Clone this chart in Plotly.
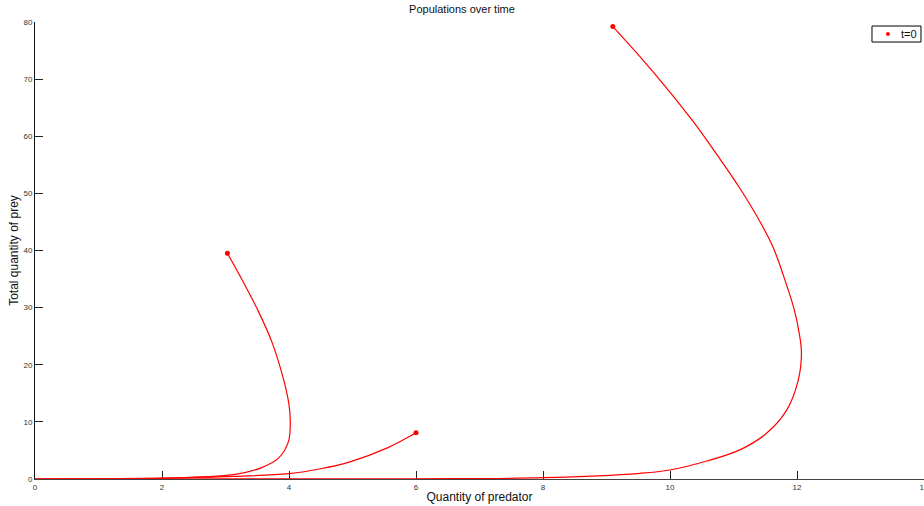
import plotly.graph_objects as go

# Trajectories (predator quantity, prey quantity), from t=0 onward
traj1_x = [3.03, 3.25, 3.52, 3.73, 3.91, 4.00, 4.02, 3.99, 3.83, 3.57, 3.15, 2.70, 2.00, 1.00, 0.0]
traj1_y = [39.5, 35.1, 29.3, 24.0, 17.6, 13.0, 10.0, 6.5, 3.6, 2.0, 0.8, 0.4, 0.1, 0.01, 0.0]

traj2_x = [6.00, 5.54, 4.96, 4.50, 4.00, 3.12, 2.00, 1.00, 0.0]
traj2_y = [8.1, 5.4, 3.0, 1.8, 0.95, 0.45, 0.15, 0.03, 0.0]

traj3_x = [9.10, 9.53, 9.95, 10.37, 10.75, 11.10, 11.42, 11.63, 11.82, 11.95, 12.04, 12.07, 12.02, 11.84, 11.52, 11.10, 10.58, 10.00, 9.53, 8.00, 6.00, 0.0]
traj3_y = [79.2, 73.9, 68.4, 62.5, 56.6, 50.9, 45.0, 40.4, 34.5, 29.9, 25.2, 22.0, 17.3, 12.1, 8.0, 5.1, 3.15, 1.58, 1.0, 0.23, 0.04, 0.0]

start_x = [traj1_x[0], traj2_x[0], traj3_x[0]]
start_y = [traj1_y[0], traj2_y[0], traj3_y[0]]

x_ticks = [0, 2, 4, 6, 8, 10, 12, 14]
y_ticks = [0, 10, 20, 30, 40, 50, 60, 70, 80]

legend_label = "t=0"

fig = go.Figure()
for xs, ys in [(traj1_x, traj1_y), (traj2_x, traj2_y), (traj3_x, traj3_y)]:
    fig.add_trace(go.Scatter(x=xs, y=ys, mode="lines", showlegend=False,
                             line=dict(color="#ff0000", width=1.2, shape="spline", smoothing=1.0),
                             hoverinfo="skip"))
fig.add_trace(go.Scatter(x=start_x, y=start_y, mode="markers", name=legend_label, showlegend=False,
                         marker=dict(color="#ff0000", size=5), cliponaxis=False))

font = "Liberation Sans, Arial, sans-serif"

# compact legend box (top-right), in paper coordinates
fig.add_shape(type="rect", xref="paper", yref="paper", x0=0.9415, x1=0.9966, y0=0.9562, y1=0.9912,
              line=dict(color="black", width=1), fillcolor="white", layer="above")
fig.add_shape(type="circle", xref="paper", yref="paper", x0=0.9572, x1=0.9617, y0=0.9693, y1=0.9781,
              line=dict(color="#ff0000", width=0), fillcolor="#ff0000", layer="above")
fig.add_annotation(xref="paper", yref="paper", x=0.9715, y=0.9737, xanchor="left", yanchor="middle",
                   text=legend_label, showarrow=False, font=dict(size=11, family=font, color="#111"))

fig.update_layout(
    width=924, height=506,
    margin=dict(l=35, r=0, t=22, b=27, autoexpand=False),
    paper_bgcolor="white", plot_bgcolor="white",
    font=dict(family=font, color="#222"),
    title=dict(text="Populations over time", x=0.5, xanchor="center", y=0.99, yanchor="top",
               font=dict(size=11, family=font, color="#111")),
    showlegend=False,
    xaxis=dict(range=[0, 14], tickvals=x_ticks, ticktext=[str(v) for v in x_ticks],
               ticks="inside", ticklen=8, tickcolor="#222", tickwidth=1, ticklabeloverflow="allow",
               automargin=False,
               showline=True, linecolor="#444", linewidth=1, showgrid=False, zeroline=False,
               tickfont=dict(size=8, color="#333"), layer="below traces",
               title=dict(text="Quantity of predator", font=dict(size=12, color="#111"), standoff=2)),
    yaxis=dict(range=[0, 80], tickvals=y_ticks, ticktext=[str(v) for v in y_ticks],
               ticks="inside", ticklen=8, tickcolor="#222", tickwidth=1, automargin=False,
               showline=True, linecolor="#111", linewidth=1, showgrid=False, zeroline=False,
               tickfont=dict(size=8, color="#333"), layer="below traces",
               title=dict(text="Total quantity of prey", font=dict(size=12, color="#111"), standoff=2)),
)

fig.write_html("out.html", config={"displayModeBar": False},
               post_script="document.body.style.margin='0';")
